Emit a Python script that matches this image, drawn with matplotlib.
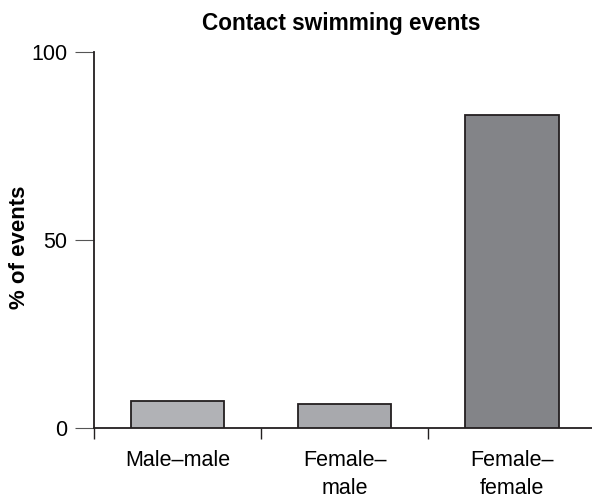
import matplotlib
matplotlib.use("Agg")
import matplotlib.pyplot as plt
import numpy as np

categories = ["Male\u2013male", "Female\u2013\nmale", "Female\u2013\nfemale"]
values = [7.3, 6.3, 83.3]
colors = ["#b1b2b6", "#a8a9ad", "#838488"]

plt.rcParams['font.family'] = ['Liberation Sans', 'DejaVu Sans']

fig = plt.figure(figsize=(5.92, 5.01), dpi=100)
ax = fig.add_axes([94/592, 1-428/501, (592-94)/592, (428-52)/501])

x = np.arange(len(categories))
ax.bar(x, values, width=0.56, color=colors, edgecolor="#231f20", linewidth=1.3, zorder=3)

ax.set_xlim(-0.5, 2.48)
ax.set_ylim(0, 100)

for s in ["top", "right"]:
    ax.spines[s].set_visible(False)
for s in ["left", "bottom"]:
    ax.spines[s].set_color("#231f20")
    ax.spines[s].set_linewidth(1.3)
ax.spines["left"].set_bounds(0, 100)

ax.set_yticks([0, 50, 100])
ax.set_yticklabels(["0", "50", "100"], fontsize=15.5)
ax.tick_params(axis="y", length=14, width=0.8, color="#555555", pad=5)

ax.set_xticks([-0.5, 0.5, 1.5])
ax.set_xticklabels([])
ax.tick_params(axis="x", which="major", length=8, width=1.0, color="#231f20", direction="out")
ax.set_xticks(x, minor=True)
ax.set_xticklabels(categories, minor=True, fontsize=15.5, linespacing=1.42)
ax.tick_params(axis="x", which="minor", length=0, pad=16)
for lbl in ax.get_xticklabels(minor=True):
    lbl.set_verticalalignment("top")

ax.set_ylabel("% of events", fontsize=16, fontweight="bold", va="center")
ax.yaxis.set_label_coords((20-94)/498, (428-247)/376)

fig.text(341/592, 1-30/501, "Contact swimming events", ha="center", va="baseline",
         fontsize=16.3, fontweight="bold")

fig.savefig("out.png", dpi=100)
